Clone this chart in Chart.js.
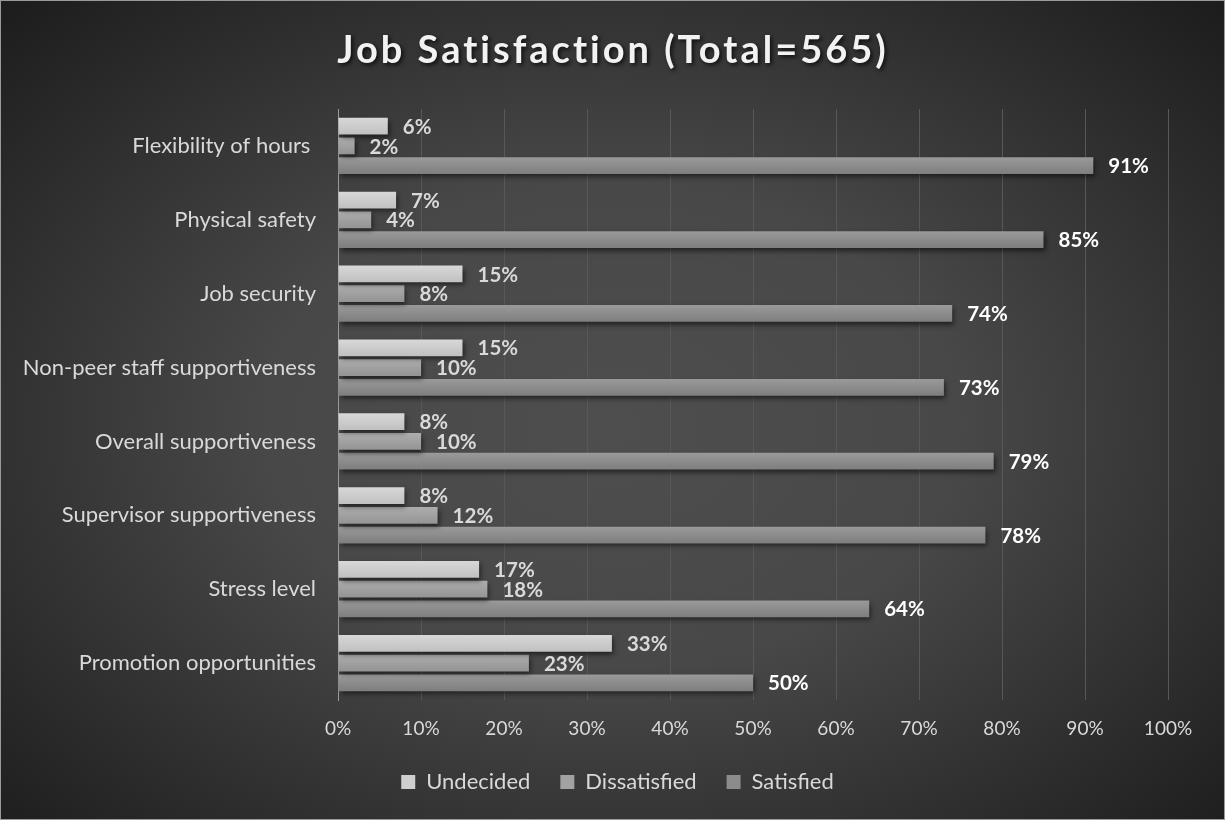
<!DOCTYPE html>
<html>
<head>
<meta charset="utf-8">
<script src="https://cdn.jsdelivr.net/npm/chart.js@4.4.0/dist/chart.umd.min.js"></script>
<style>
  html, body { margin: 0; padding: 0; background: #222; }
  #wrap {
    width: 1225px; height: 820px; box-sizing: border-box;
    border: 1px solid #9a9a9a;
    background: radial-gradient(ellipse farthest-corner at 50% 52%, #4e4e4e 0%, #484848 40%, #2c2c2c 78%, #1c1c1c 100%);
  }
  canvas { display: block; }
</style>
</head>
<body>
<div id="wrap"><canvas id="chart" width="1223" height="818"></canvas></div>
<script>
// chart values (percent)
var categories = [
  'Flexibility of hours ',
  'Physical safety',
  'Job security',
  'Non-peer staff supportiveness',
  'Overall supportiveness',
  'Supervisor supportiveness',
  'Stress level',
  'Promotion opportunities'
];
var undecided    = [6, 7, 15, 15, 8, 8, 17, 33];
var dissatisfied = [2, 4, 8, 10, 10, 12, 18, 23];
var satisfied    = [91, 85, 74, 73, 79, 78, 64, 50];
var seriesNames  = ['Undecided', 'Dissatisfied', 'Satisfied'];
var xTicks       = [0, 10, 20, 30, 40, 50, 60, 70, 80, 90, 100];

var chartTitle = 'Job Satisfaction (Total=565)';
var FONT = 'Lato, "Open Sans", sans-serif';

var colors = ['#cecece', '#a2a2a2', '#8c8c8c'];
// top / bottom shades for the bar gradients
var shades = [['#d8d8d8', '#c0c0c0'], ['#adadad', '#949494'], ['#9a9a9a', '#7e7e7e']];
var allData = [undecided, dissatisfied, satisfied];

// draws title, bar shading/shadows and value labels
var decorPlugin = {
  id: 'decor',
  afterLayout: function(chart) {
    // legend is centred on the whole picture, not the plot
    chart.legend.left += 33;
    chart.legend.right += 33;
  },
  afterDraw: function(chart) {
    var ctx = chart.ctx;
    ctx.save();
    ctx.font = 'bold 38px ' + FONT;
    if ('letterSpacing' in ctx) ctx.letterSpacing = '3px';
    ctx.textAlign = 'center';
    ctx.textBaseline = 'middle';
    ctx.shadowColor = 'rgba(0,0,0,0.75)';
    ctx.shadowOffsetX = 2;
    ctx.shadowOffsetY = 2;
    ctx.shadowBlur = 4;
    ctx.fillStyle = '#f2f2f2';
    ctx.fillText(chartTitle, 612, 50);
    ctx.restore();
  },
  beforeDatasetsDraw: function(chart) {
    var ctx = chart.ctx;
    chart.data.datasets.forEach(function(ds, i) {
      chart.getDatasetMeta(i).data.forEach(function(bar) {
        var g = ctx.createLinearGradient(0, bar.y - bar.height / 2, 0, bar.y + bar.height / 2);
        g.addColorStop(0, shades[i][0]);
        g.addColorStop(1, shades[i][1]);
        bar.options = Object.assign({}, bar.options, { backgroundColor: g });
      });
    });
    ctx.save();
    ctx.shadowColor = 'rgba(0,0,0,0.55)';
    ctx.shadowOffsetX = 2;
    ctx.shadowOffsetY = 3;
    ctx.shadowBlur = 5;
  },
  afterDatasetsDraw: function(chart) {
    var ctx = chart.ctx;
    ctx.restore();
    ctx.save();
    ctx.font = 'bold 20.5px ' + FONT;
    ctx.textAlign = 'left';
    ctx.textBaseline = 'middle';
    chart.data.datasets.forEach(function(ds, i) {
      var meta = chart.getDatasetMeta(i);
      ctx.fillStyle = i == 2 ? '#ffffff' : '#d9d9d9';
      meta.data.forEach(function(bar, j) {
        ctx.fillText(ds.data[j] + '%', bar.x + 15, bar.y + 1);
      });
    });
    ctx.restore();
  }
};

new Chart(document.getElementById('chart'), {
  type: 'bar',
  data: {
    labels: categories,
    datasets: seriesNames.map(function(name, i) {
      return {
        label: name,
        data: allData[i],
        backgroundColor: colors[i],
        borderWidth: 0,
        categoryPercentage: 0.8,
        barPercentage: 0.85
      };
    })
  },
  options: {
    indexAxis: 'y',
    responsive: false,
    animation: false,
    layout: { padding: { top: 108, right: 56, bottom: 16, left: 0 } },
    plugins: {
      title: { display: false },
      tooltip: { enabled: false },
      legend: {
        position: 'bottom',
        labels: {
          color: '#d9d9d9',
          font: { family: FONT, size: 22 },
          boxWidth: 14,
          boxHeight: 14,
          padding: 30
        }
      }
    },
    scales: {
      x: {
        min: 0,
        max: 100,
        afterBuildTicks: function(s) {
          s.ticks = xTicks.map(function(v) { return { value: v }; });
        },
        afterFit: function(s) { s.height = 41; },
        ticks: {
          color: '#d9d9d9',
          font: { family: FONT, size: 19 },
          padding: 17,
          callback: function(v) { return v + '%'; }
        },
        grid: { color: '#585858', drawTicks: false },
        border: { display: false }
      },
      y: {
        afterFit: function(s) { s.width = 337; },
        ticks: {
          color: '#d9d9d9',
          font: { family: FONT, size: 22 },
          padding: 22
        },
        grid: { display: false, drawTicks: false },
        border: { color: '#9a9a9a', width: 1 }
      }
    }
  },
  plugins: [decorPlugin]
});
</script>
</body>
</html>
